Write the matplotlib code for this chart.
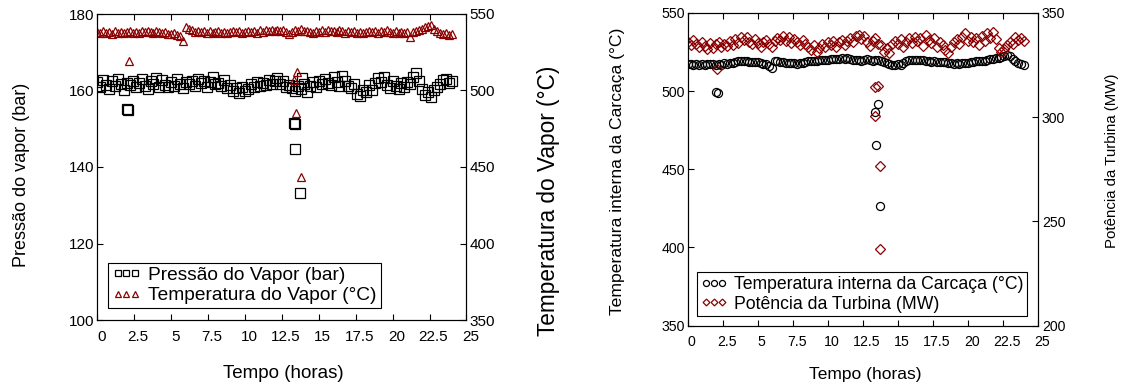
import matplotlib
matplotlib.use("Agg")
import matplotlib.pyplot as plt
import matplotlib.transforms as mtransforms
import numpy as np

plt.rcParams['font.family'] = ['Liberation Sans', 'DejaVu Sans']

# sampling instants (hours), one reading every 12 min
tempo = np.linspace(0, 24, 121)

# ---- left panel: steam pressure (bar) and steam temperature (degC)
pressao = [162.3, 161.0, 162.8, 161.5, 160.4, 162.6, 161.2, 163.0, 161.8, 160.2, 162.0,
           161.4, 162.5, 160.8, 161.9, 163.1, 161.2, 160.5, 162.4, 161.6, 163.2,
           161.0, 162.7, 161.5, 160.9, 162.2, 161.3, 162.9, 161.7, 160.6, 162.1,
           161.8, 162.6, 161.1, 163.0, 161.9, 162.4, 160.9, 162.2, 163.4, 161.6,
           162.0, 161.3, 162.8, 160.7, 161.5, 159.9, 160.6, 159.3, 160.8, 159.8,
           160.5, 161.7, 160.9, 162.3, 161.2, 162.0, 161.4, 162.8, 161.6, 162.5,
           163.2, 161.8, 162.4, 160.9, 161.5, 160.6, 160.0, 161.2,
           160.4, 161.8, 159.6, 161.2, 162.3, 161.0, 162.6,
           161.7, 163.1, 162.0, 161.4, 163.6, 162.2, 161.1, 163.8, 162.5, 161.3,
           160.6, 161.8, 159.2, 158.6, 160.1, 159.5, 161.4, 160.2, 162.0, 163.2,
           162.1, 163.4, 161.5, 160.7, 162.6, 161.2, 160.3, 161.9, 160.8, 162.3,
           161.6, 163.5, 164.6, 162.4, 160.5, 158.7, 159.6, 158.4, 160.2, 161.0,
           161.8, 162.7, 163.1, 161.9, 162.4]
temp_vapor = [538.2, 537.5, 538.8, 537.9, 538.5, 537.2, 538.9, 537.8, 538.4, 537.6, 538.1,
              538.6, 537.4, 538.3, 537.9, 538.8, 538.0, 539.2, 538.5, 537.8, 539.0,
              538.2, 537.6, 538.0, 537.1, 536.8, 537.4, 536.2, 535.6, 532.3, 541.8,
              540.4, 539.4, 538.5, 539.2, 538.0, 538.8, 537.9, 538.6, 537.4, 538.2,
              538.9, 537.8, 538.5, 537.3, 538.4, 539.1, 538.0, 538.6, 537.7, 538.3,
              539.0, 538.2, 538.8, 537.9, 539.3, 538.5, 539.6, 538.9, 539.4, 538.6,
              539.8, 538.9, 539.5, 538.2, 536.8, 538.0, 539.4, 538.8, 539.9, 538.6,
              539.2, 538.0, 537.6, 538.8, 538.2, 539.3, 538.5, 539.6, 538.7, 539.1,
              538.4, 539.5, 538.6, 537.9, 538.8, 538.1, 539.0, 537.8, 538.5, 537.6,
              538.3, 539.1, 538.0, 538.7, 537.8, 538.9, 538.2, 539.3, 538.4, 537.9,
              538.6, 537.5, 538.2, 537.8, 538.5, 535.0, 538.3, 539.0, 539.6, 540.4,
              541.2, 541.9, 542.6, 540.4, 538.6, 537.4, 536.8, 537.5, 536.4, 536.9]

# transient readings (trips around 2 h and 13-14 h)
t_trip_p = [2.0, 2.05, 13.3, 13.38, 13.42, 13.75, 13.85]
pressao_trip = [155.2, 155.0, 151.6, 151.3, 144.6, 133.1, 163.2]
t_trip_tv = [2.15, 13.34, 13.54, 13.43, 13.77]
temp_vapor_trip = [519.3, 506.9, 512.3, 485.0, 443.7]

# ---- right panel: casing inner temperature (degC) and turbine power (MW)
temp_carcaca = [517.2, 517.6, 516.9, 517.4, 517.0, 517.5, 516.8, 517.3, 517.1, 517.6, 516.9,
                517.4, 517.0, 517.7, 517.2, 517.9, 518.3, 518.8, 519.2, 519.6, 519.3,
                519.0, 518.7, 518.9, 518.4, 518.6, 518.1, 517.6, 517.2, 516.3, 514.8,
                519.6, 519.2, 518.6, 518.4, 518.0, 517.9, 518.2, 517.8, 517.6, 518.0,
                518.3, 518.7, 519.0, 519.2, 519.5, 519.3, 519.7, 519.9, 520.2, 520.0,
                520.4, 520.6, 520.3, 520.8, 521.0, 520.7, 520.9, 520.5, 520.2, 519.8,
                520.1, 519.6, 519.9, 520.3, 519.7, 519.4, 519.8, 520.0, 519.2, 518.6,
                518.0, 517.4, 516.9, 516.6, 517.2, 517.0, 518.0, 519.1, 519.8, 520.1,
                519.9, 520.2, 519.8, 520.0, 519.6, 519.3, 518.9, 519.1, 518.6, 518.8,
                518.4, 518.6, 518.2, 518.0, 517.6, 517.9, 517.3, 517.8, 518.3, 518.0,
                518.5, 518.8, 519.1, 519.4, 519.0, 519.6, 519.9, 520.4, 520.8, 521.1,
                521.4, 521.6, 522.3, 523.4, 522.6, 520.8, 519.2, 518.0, 517.1, 516.6]
potencia = [336.2, 334.8, 337.1, 335.3, 333.6, 336.0, 334.1, 332.8, 335.5, 333.4, 334.9,
            336.3, 333.9, 335.2, 334.0, 336.6, 334.7, 337.3, 335.8, 338.4, 336.9,
            338.6, 336.2, 334.9, 337.5, 335.6, 333.8, 336.1, 337.2, 335.0, 333.6,
            336.4, 338.1, 337.0, 339.0, 336.5, 338.6, 335.7, 337.3, 336.1, 334.8,
            336.9, 335.2, 333.9, 332.1, 334.6, 331.4, 333.2, 335.0, 333.6, 336.2,
            334.5, 336.8, 333.8, 335.9, 337.2, 334.6, 336.7, 338.0, 336.3, 338.8,
            339.4, 337.5, 338.9, 336.0, 334.2, 336.8, 338.2, 335.1, 334.6, 331.2,
            333.0, 330.8, 334.9, 336.8, 335.2, 337.4, 333.6, 336.1, 338.2, 335.4,
            338.6, 336.5, 337.9, 334.3, 339.4, 337.2, 335.8, 338.1, 333.5, 335.9,
            334.6, 332.1, 330.6, 333.8, 336.0, 337.6, 335.3, 338.5, 340.2, 336.7,
            338.3, 335.9, 337.8, 334.6, 339.2, 336.4, 340.6, 338.2, 341.0, 337.5,
            333.2, 331.4, 332.6, 334.8, 336.3, 335.1, 338.4, 336.9, 337.8, 336.5]

t_trip_tc = [2.0, 2.15, 13.38, 13.57, 13.45, 13.73]
temp_carcaca_trip = [499.6, 499.0, 486.7, 491.7, 465.8, 426.3]
t_trip_pot = [2.1, 13.4, 13.6, 13.4, 13.75, 13.7]
potencia_trip = [322.9, 314.6, 314.8, 300.5, 276.6, 236.9]

xticks = [0, 2.5, 5, 7.5, 10, 12.5, 15, 17.5, 20, 22.5, 25]
xticklabels = ['0', '2.5', '5', '7.5', '10', '12.5', '15', '17.5', '20', '22.5', '25']

red = '#8b0000'

fig = plt.figure(figsize=(11.24, 3.87), dpi=100)


def style_axes(ax, ax2, tick_fs, xpad):
    ax.set_xlim(0, 25)
    ax.set_xticks(xticks)
    ax.set_xticklabels(xticklabels)
    ax.tick_params(direction='in', top=True, right=False, length=4, width=0.8,
                   labelsize=tick_fs, pad=2)
    ax.tick_params(axis='x', pad=xpad)
    ax2.tick_params(direction='in', length=4, width=0.8, labelsize=tick_fs, pad=2)
    # labels in the original sit a few pixels right of their ticks
    off = mtransforms.ScaledTranslation(4 / 100, 0, fig.dpi_scale_trans)
    for lab in ax.get_xticklabels():
        lab.set_transform(lab.get_transform() + off)
    for sp in list(ax.spines.values()) + list(ax2.spines.values()):
        sp.set_linewidth(0.8)


# ---------------- left panel
axL = fig.add_axes([97.4 / 1124, 1 - 320 / 387, 369 / 1124, 306 / 387])
axL2 = axL.twinx()
h1, = axL.plot(tempo, pressao, 's', ms=6.5, mfc='none', mec='black', mew=0.9,
               label='Pressão do Vapor (bar)')
axL.plot(t_trip_p, pressao_trip, 's', ms=6.5, mfc='none', mec='black', mew=0.9)
h2, = axL2.plot(tempo, temp_vapor, '^', ms=6.2, mfc='none', mec=red, mew=0.9,
                label='Temperatura do Vapor (°C)')
axL2.plot(t_trip_tv, temp_vapor_trip, '^', ms=6.2, mfc='none', mec=red, mew=0.9)
axL.set_ylim(100, 180)
axL.set_yticks([100, 120, 140, 160, 180])
axL2.set_ylim(350, 550)
axL2.set_yticks([350, 400, 450, 500, 550])
style_axes(axL, axL2, 11, 7)

axL.set_xlabel('Tempo (horas)', fontsize=13.5)
axL.xaxis.set_label_coords(0.503, -0.147)
axL.set_ylabel('Pressão do vapor (bar)', fontsize=13)
axL.yaxis.set_label_coords(-0.183, 0.474)
axL2.set_ylabel('Temperatura do Vapor (°C)', fontsize=16.3)
axL2.yaxis.set_label_coords(1.192, 0.389)

legL = axL2.legend([h1, h2], [h1.get_label(), h2.get_label()], loc='lower left',
                   bbox_to_anchor=(0.029, 0.039), borderaxespad=0, fontsize=13.8,
                   numpoints=3, markerscale=0.7, handlelength=1.5, handletextpad=0.4,
                   borderpad=0.2, labelspacing=0.15, fancybox=False, framealpha=1,
                   edgecolor='black')
legL.get_frame().set_linewidth(0.8)

# ---------------- right panel
axR = fig.add_axes([687.7 / 1124, 1 - 325.5 / 387, 350 / 1124, 312.5 / 387])
axR2 = axR.twinx()
h3, = axR.plot(tempo, temp_carcaca, 'o', ms=5.8, mfc='none', mec='black', mew=0.9,
               label='Temperatura interna da Carcaça (°C)')
axR.plot(t_trip_tc, temp_carcaca_trip, 'o', ms=5.8, mfc='none', mec='black', mew=0.9)
h4, = axR2.plot(tempo, potencia, 'D', ms=4.6, mfc='none', mec=red, mew=0.9,
                label='Potência da Turbina (MW)')
axR2.plot(t_trip_pot, potencia_trip, 'D', ms=4.6, mfc='none', mec=red, mew=0.9)
axR.set_ylim(350, 550)
axR.set_yticks([350, 400, 450, 500, 550])
axR2.set_ylim(200, 350)
axR2.set_yticks([200, 250, 300, 350])
style_axes(axR, axR2, 10.2, 7)
axR2.tick_params(pad=3)

axR.set_xlabel('Tempo (horas)', fontsize=12.5)
axR.xaxis.set_label_coords(0.507, -0.132)
axR.set_ylabel('Temperatura interna da Carcaça (°C)', fontsize=12.6)
axR.yaxis.set_label_coords(-0.179, 0.494)
axR2.set_ylabel('Potência da Turbina (MW)', fontsize=10.8)
axR2.yaxis.set_label_coords(1.192, 0.526)

legR = axR2.legend([h3, h4], [h3.get_label(), h4.get_label()], loc='lower left',
                   bbox_to_anchor=(0.027, 0.030), borderaxespad=0, fontsize=12.7,
                   numpoints=3, markerscale=0.75, handlelength=1.5, handletextpad=0.4,
                   borderpad=0.2, labelspacing=0.15, fancybox=False, framealpha=1,
                   edgecolor='black')
legR.get_frame().set_linewidth(0.8)

fig.savefig('out.png', dpi=100)
